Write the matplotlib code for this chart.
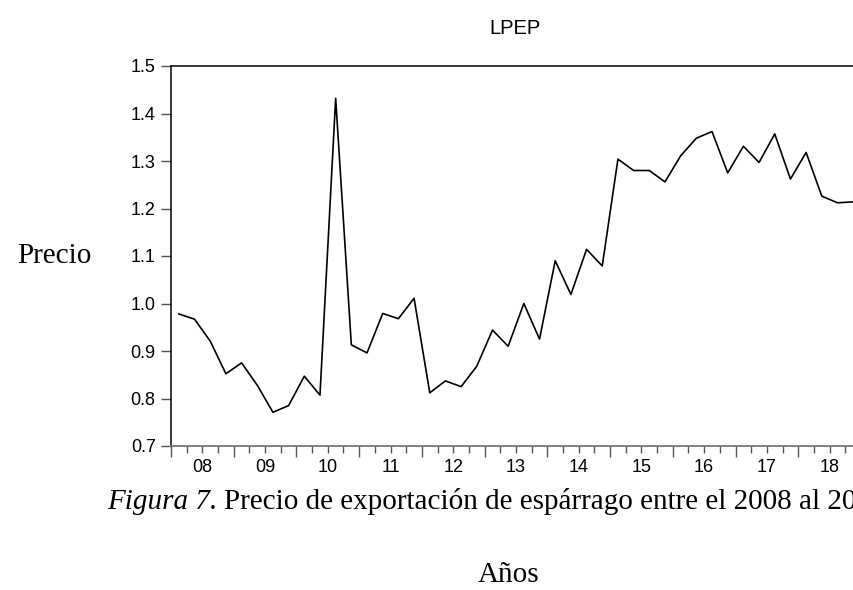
import numpy as np
import matplotlib.pyplot as plt
from matplotlib.ticker import FixedLocator, FuncFormatter

# ============================================================
# Quarterly export price (LPEP), 2008Q1 - 2018Q4
YEARS = list(range(2008, 2019))
PRICE = [
    0.978, 0.967, 0.921, 0.852,   # 2008
    0.875, 0.828, 0.771, 0.785,   # 2009
    0.847, 0.807, 1.432, 0.913,   # 2010
    0.896, 0.979, 0.968, 1.011,   # 2011
    0.812, 0.837, 0.825, 0.868,   # 2012
    0.944, 0.910, 1.000, 0.925,   # 2013
    1.090, 1.019, 1.114, 1.079,   # 2014
    1.304, 1.280, 1.280, 1.256,   # 2015
    1.311, 1.348, 1.362, 1.275,   # 2016
    1.331, 1.297, 1.357, 1.262,   # 2017
    1.318, 1.226, 1.212, 1.214,   # 2018
]
Y_TICKS = [0.7, 0.8, 0.9, 1.0, 1.1, 1.2, 1.3, 1.4, 1.5]
TITLE = "LPEP"
YLABEL = "Precio"
XLABEL = "Años"
CAPTION_IT = "Figura 7."
# the source picture is cropped in the middle of the caption
CAPTION = "Precio de exportación de espárrago entre el 2008 al 20"
# ============================================================

SANS = ['Liberation Sans', 'DejaVu Sans']
SERIF = ['Liberation Serif', 'DejaVu Serif']

W, H = 854, 590
fig = plt.figure(figsize=(W / 100, H / 100), dpi=100)


def fx(px):
    return px / W


def fy(py):
    return 1 - py / H


# axes box in pixels (right edge runs past the picture, as in the source)
left, right, top, bottom = 171, 861, 66, 446
ax = fig.add_axes([fx(left), fy(bottom), (right - left) / W, (bottom - top) / H])

x = np.array([YEARS[0] + (i + 0.5) / 4 for i in range(len(PRICE))])
ax.plot(x, PRICE, color='black', lw=1.2)

ax.set_xlim(YEARS[0], YEARS[-1] + 1)
ax.set_ylim(Y_TICKS[0], Y_TICKS[-1])

ax.set_yticks(Y_TICKS)
ax.yaxis.set_major_formatter(FuncFormatter(lambda v, p: f"{v:.1f}"))

# year boundaries = long ticks, quarters = short ticks, year label mid-year
ax.xaxis.set_major_locator(FixedLocator(YEARS + [YEARS[-1] + 1]))
ax.xaxis.set_major_formatter(FuncFormatter(lambda v, p: ""))
q = [y + k / 4 for y in YEARS for k in (1, 2, 3)]
ax.xaxis.set_minor_locator(FixedLocator(q))


def year_lab(v, p):
    if abs(v - int(v) - 0.5) < 1e-6:
        return f"{int(v) % 100:02d}"
    return ""


ax.xaxis.set_minor_formatter(FuncFormatter(year_lab))

ax.tick_params(axis='x', which='major', length=8, width=1, color='#555555')
ax.tick_params(axis='x', which='minor', length=5, width=1, color='#555555',
               pad=4, labelsize=13)
ax.tick_params(axis='y', which='major', length=7, width=1, color='#555555',
               labelsize=13, pad=4)
for lab in ax.get_xticklabels(minor=True) + ax.get_yticklabels():
    lab.set_family(SANS)

for side in ['left', 'top', 'right']:
    ax.spines[side].set_color('black')
    ax.spines[side].set_linewidth(1.1)
ax.spines['bottom'].set_color('#777777')
ax.spines['bottom'].set_linewidth(1.3)

fig.text(fx(515), fy(33.5), TITLE, family=SANS, fontsize=14.5,
         ha='center', va='baseline')
fig.text(fx(92), fy(263), YLABEL, family=SERIF, fontsize=21,
         ha='right', va='baseline')
fig.text(fx(509), fy(582), XLABEL, family=SERIF, fontsize=21,
         ha='center', va='baseline')

t2 = fig.text(fx(224), fy(509), CAPTION, family=SERIF, fontsize=21,
              ha='left', va='baseline')
ax.annotate(CAPTION_IT, xy=(0, 0), xycoords=t2, xytext=(-5, 0),
            textcoords='offset points', va='bottom', ha='right',
            family=SERIF, style='italic', fontsize=21, annotation_clip=False)

fig.savefig('out.png', dpi=100)
